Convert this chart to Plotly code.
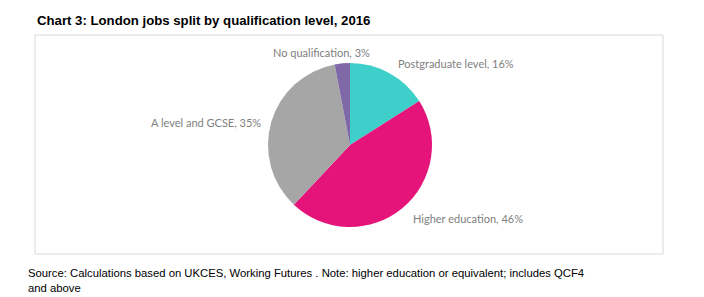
import plotly.graph_objects as go

categories = ["Postgraduate level", "Higher education", "A level and GCSE", "No qualification"]
shares = [16, 46, 35, 3]
colors = ["#3ECFCA", "#E5147A", "#A6A6A6", "#7F68A8"]

W, H = 704, 297
cx, cy, r = 350, 145, 82

fig = go.Figure(go.Pie(
    labels=categories, values=shares, sort=False, direction="clockwise", rotation=0,
    marker=dict(colors=colors, line=dict(width=0)), textinfo="none", hoverinfo="label+percent",
    domain=dict(x=[(cx - r) / W, (cx + r) / W], y=[(H - cy - r) / H, (H - cy + r) / H]),
    showlegend=False,
))

# label anchor positions (pixels): (x, y, xanchor)
label_pos = {
    "Postgraduate level": (396, 63, "left"),
    "Higher education": (411, 218, "left"),
    "A level and GCSE": (263, 122, "right"),
    "No qualification": (372, 53, "right"),
}
annotations = []
for cat, v in zip(categories, shares):
    x, y, xa = label_pos[cat]
    annotations.append(dict(x=x / W, y=1 - y / H, xref="paper", yref="paper", xanchor=xa, yanchor="middle",
                            text=f"{cat}, {v}%", showarrow=False,
                            font=dict(family="Lato", size=11, color="#808080")))
annotations.append(dict(x=35 / W, y=1 - 20 / H, xref="paper", yref="paper", xanchor="left", yanchor="middle",
                        text="<b>Chart 3: London jobs split by qualification level, 2016</b>", showarrow=False,
                        font=dict(family="Liberation Sans, Arial", size=13.2, color="#000000")))
annotations.append(dict(x=26 / W, y=1 - 265 / H, xref="paper", yref="paper", xanchor="left", yanchor="top",
                        align="left",
                        text="Source: Calculations based on UKCES, Working Futures . Note: higher education or equivalent; includes QCF4<br>and above",
                        showarrow=False, font=dict(family="Liberation Sans, Arial", size=11.3, color="#000000")))

fig.update_layout(
    width=W, height=H, margin=dict(l=0, r=0, t=0, b=0),
    paper_bgcolor="white", plot_bgcolor="white",
    annotations=annotations,
    shapes=[dict(type="rect", xref="paper", yref="paper", x0=35 / W, x1=663 / W, y0=1 - 254 / H, y1=1 - 35 / H,
                 line=dict(color="#D9D9D9", width=1), fillcolor="rgba(0,0,0,0)", layer="below")],
)
fig.write_html("out.html")
